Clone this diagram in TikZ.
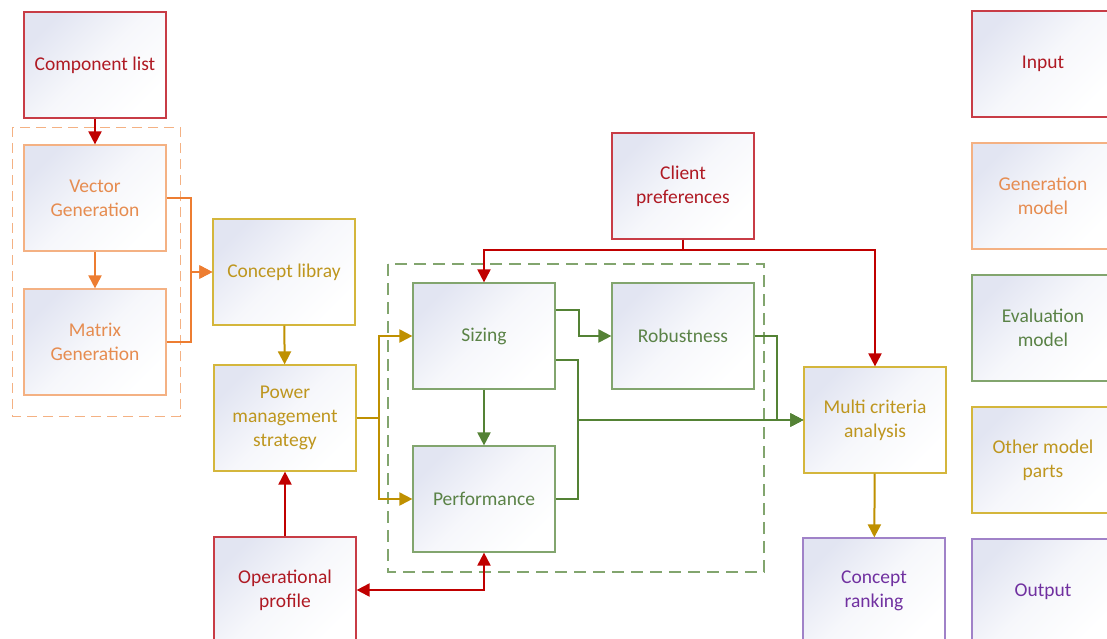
\documentclass[tikz,border=0pt]{standalone}
\usepackage{fontspec}
\setmainfont{Carlito}
\usetikzlibrary{arrows.meta}

\definecolor{inred}{RGB}{192,0,0}
\definecolor{inredbox}{RGB}{200,60,70}
\definecolor{inredtext}{RGB}{175,25,35}
\definecolor{genor}{RGB}{237,125,49}
\definecolor{genorbox}{RGB}{244,177,131}
\definecolor{genortext}{RGB}{230,140,80}
\definecolor{evgreen}{RGB}{84,130,53}
\definecolor{evgreenbox}{RGB}{130,165,110}
\definecolor{evgreentext}{RGB}{90,130,70}
\definecolor{othgold}{RGB}{191,144,0}
\definecolor{othgoldbox}{RGB}{212,182,60}
\definecolor{othgoldtext}{RGB}{190,150,30}
\definecolor{outpurple}{RGB}{112,48,160}
\definecolor{outpurplebox}{RGB}{160,130,200}
\definecolor{shadetop}{RGB}{226,229,242}

\tikzset{
  block/.style={draw, line width=1.2pt, minimum width=142pt, minimum height=106pt,
    align=center, inner sep=2pt, top color=shadetop, bottom color=white,
    middle color=white!70!shadetop, shading angle=45,
    font=\fontsize{19.5}{24}\selectfont},
  inblock/.style={block, draw=inredbox, text=inredtext},
  genblock/.style={block, draw=genorbox, text=genortext},
  evblock/.style={block, draw=evgreenbox, text=evgreentext},
  othblock/.style={block, draw=othgoldbox, text=othgoldtext},
  outblock/.style={block, draw=outpurplebox, text=outpurple},
  link/.style={line width=2pt, ->},
}

\begin{document}
\begin{tikzpicture}[x=1pt, y=-1pt, >={Triangle[length=13pt,width=13pt]}]
  \useasboundingbox (0,0) rectangle (1107,638);

  % groups
  \draw[genorbox, line width=1pt, dash pattern=on 10pt off 6pt] (12,127) rectangle (180,416);
  \draw[evgreenbox, line width=1.6pt, dash pattern=on 12pt off 7pt] (388,264) rectangle (764,572);

  % blocks
  \node[inblock] (comp) at (95,65) {Component list};
  \node[genblock] (vec) at (95,198) {Vector\\Generation};
  \node[genblock] (mat) at (95,342) {Matrix\\Generation};
  \node[othblock] (lib) at (284,272) {Concept libray};
  \node[othblock] (pms) at (285,418) {Power\\management\\strategy};
  \node[inblock] (op) at (285,590) {Operational\\profile};
  \node[inblock] (client) at (683,186) {Client\\preferences};
  \node[evblock] (siz) at (484,336) {Sizing};
  \node[evblock] (rob) at (683,336) {Robustness};
  \node[evblock] (perf) at (484,499) {Performance};
  \node[othblock] (mca) at (875,420) {Multi criteria\\analysis};
  \node[outblock] (rank) at (874,591) {Concept\\ranking};

  % legend
  \node[inblock] (legin) at (1043,64) {Input};
  \node[genblock] (leggen) at (1043,196) {Generation\\model};
  \node[evblock] (legev) at (1043,328) {Evaluation\\model};
  \node[othblock] (legoth) at (1043,460) {Other model\\parts};
  \node[outblock] (legout) at (1043,592) {Output};

  % connectors
  \draw[link, inred] (comp) -- (vec);
  \draw[link, genor] (vec) -- (mat);
  \draw[link, genor] (vec.east) -- ++(24,0) |- (lib.west);
  \draw[link, genor] (mat.east) -- ++(24,0) |- (lib.west);
  \draw[link, othgold] (lib) -- (pms);
  \draw[link, othgold] (pms.east) -- ++(22,0) |- (siz.west);
  \draw[link, othgold] (pms.east) -- ++(22,0) |- (perf.west);
  \draw[link, inred] (op) -- (pms);
  \draw[link, inred, <->] (op.east) -| (perf.south);
  \draw[link, inred] (client.south) -- ++(0,10) -| (siz.north);
  \draw[link, inred] (client.south) -- ++(0,10) -| (mca.north);
  \draw[link, evgreen] ([yshift=26pt]siz.east) -- ++(23,0) |- (rob.west);
  \draw[link, evgreen] (siz) -- (perf);
  \draw[link, evgreen] ([yshift=-24pt]siz.east) -- ++(22,0) |- (mca.west);
  \draw[link, evgreen] (perf.east) -- ++(22,0) |- (mca.west);
  \draw[link, evgreen] (rob.east) -- ++(22,0) |- (mca.west);
  \draw[link, othgold] (mca) -- (rank);
\end{tikzpicture}
\end{document}
